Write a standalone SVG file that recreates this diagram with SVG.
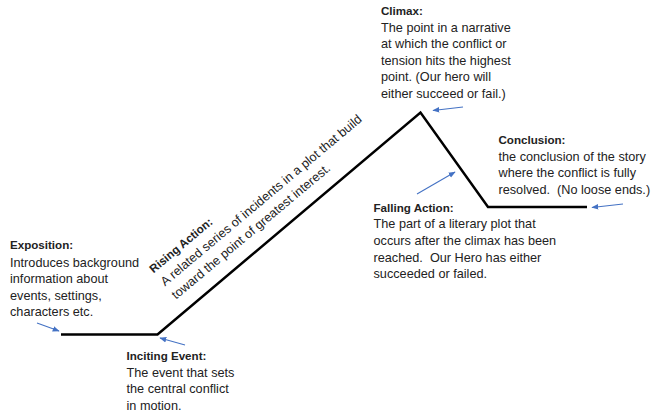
<svg xmlns="http://www.w3.org/2000/svg" width="660" height="418" viewBox="0 0 660 418">
<style>
text{font-family:"Liberation Sans",Arial,sans-serif;font-size:12.7px;fill:#222}
.b{font-weight:bold;font-size:11.6px}
.plot{fill:none;stroke:#000;stroke-width:2.5;stroke-linejoin:miter}
.arr{stroke:#4472C4;stroke-width:1.1;fill:none;marker-end:url(#ah)}
</style>
<defs>
<marker id="ah" viewBox="0 0 10 10" refX="9" refY="5" markerWidth="7" markerHeight="7" markerUnits="userSpaceOnUse" orient="auto">
<path d="M0,1 L10,5 L0,9 Z" fill="#4472C4"/>
</marker>
</defs>
<g id="connectors">
<polyline class="plot" points="61,334.5 157.5,334.5 420.5,112.5 488,207 587,207"/>
<line class="arr" x1="37" y1="323" x2="59" y2="331"/>
<line class="arr" x1="185" y1="345" x2="160" y2="338"/>
<line class="arr" x1="463" y1="107" x2="433" y2="110.5"/>
<line class="arr" x1="417" y1="194" x2="455" y2="172"/>
<line class="arr" x1="623" y1="204" x2="592" y2="207.5"/>
</g>
<g id="exposition" xml:space="preserve">
<text x="10" y="249" class="b">Exposition:</text>
<text x="10" y="266.6">Introduces background</text>
<text x="10" y="283.2">information about</text>
<text x="10" y="299.8">events, settings,</text>
<text x="10" y="316.4">characters etc.</text>
</g>
<g id="inciting-event">
<text x="126.5" y="360" class="b">Inciting Event:</text>
<text x="126.5" y="376.6">The event that sets</text>
<text x="126.5" y="393.2">the central conflict</text>
<text x="126.5" y="409.8">in motion.</text>
</g>
<g id="rising-action" transform="translate(153.5,273.5) rotate(-40)">
<text x="0" y="0" class="b">Rising Action:</text>
<text x="0.5" y="17.3">A related series of incidents in a plot that build</text>
<text x="0.5" y="34.6">toward the point of greatest interest.</text>
</g>
<g id="climax">
<text x="381" y="15" class="b">Climax:</text>
<text x="381" y="31.6">The point in a narrative</text>
<text x="381" y="48.2">at which the conflict or</text>
<text x="381" y="64.8">tension hits the highest</text>
<text x="381" y="81.4">point. (Our hero will</text>
<text x="381" y="98">either succeed or fail.)</text>
</g>
<g id="falling-action">
<text x="373.5" y="211.7" class="b">Falling Action:</text>
<text x="373.5" y="228.3">The part of a literary plot that</text>
<text x="373.5" y="244.9">occurs after the climax has been</text>
<text x="373.5" y="261.5" xml:space="preserve">reached.  Our Hero has either</text>
<text x="373.5" y="278.1">succeeded or failed.</text>
</g>
<g id="conclusion">
<text x="498.5" y="144" class="b">Conclusion:</text>
<text x="498.5" y="160.6">the conclusion of the story</text>
<text x="498.5" y="177.2">where the conflict is fully</text>
<text x="498.5" y="193.8" xml:space="preserve">resolved.  (No loose ends.)</text>
</g>
</svg>
